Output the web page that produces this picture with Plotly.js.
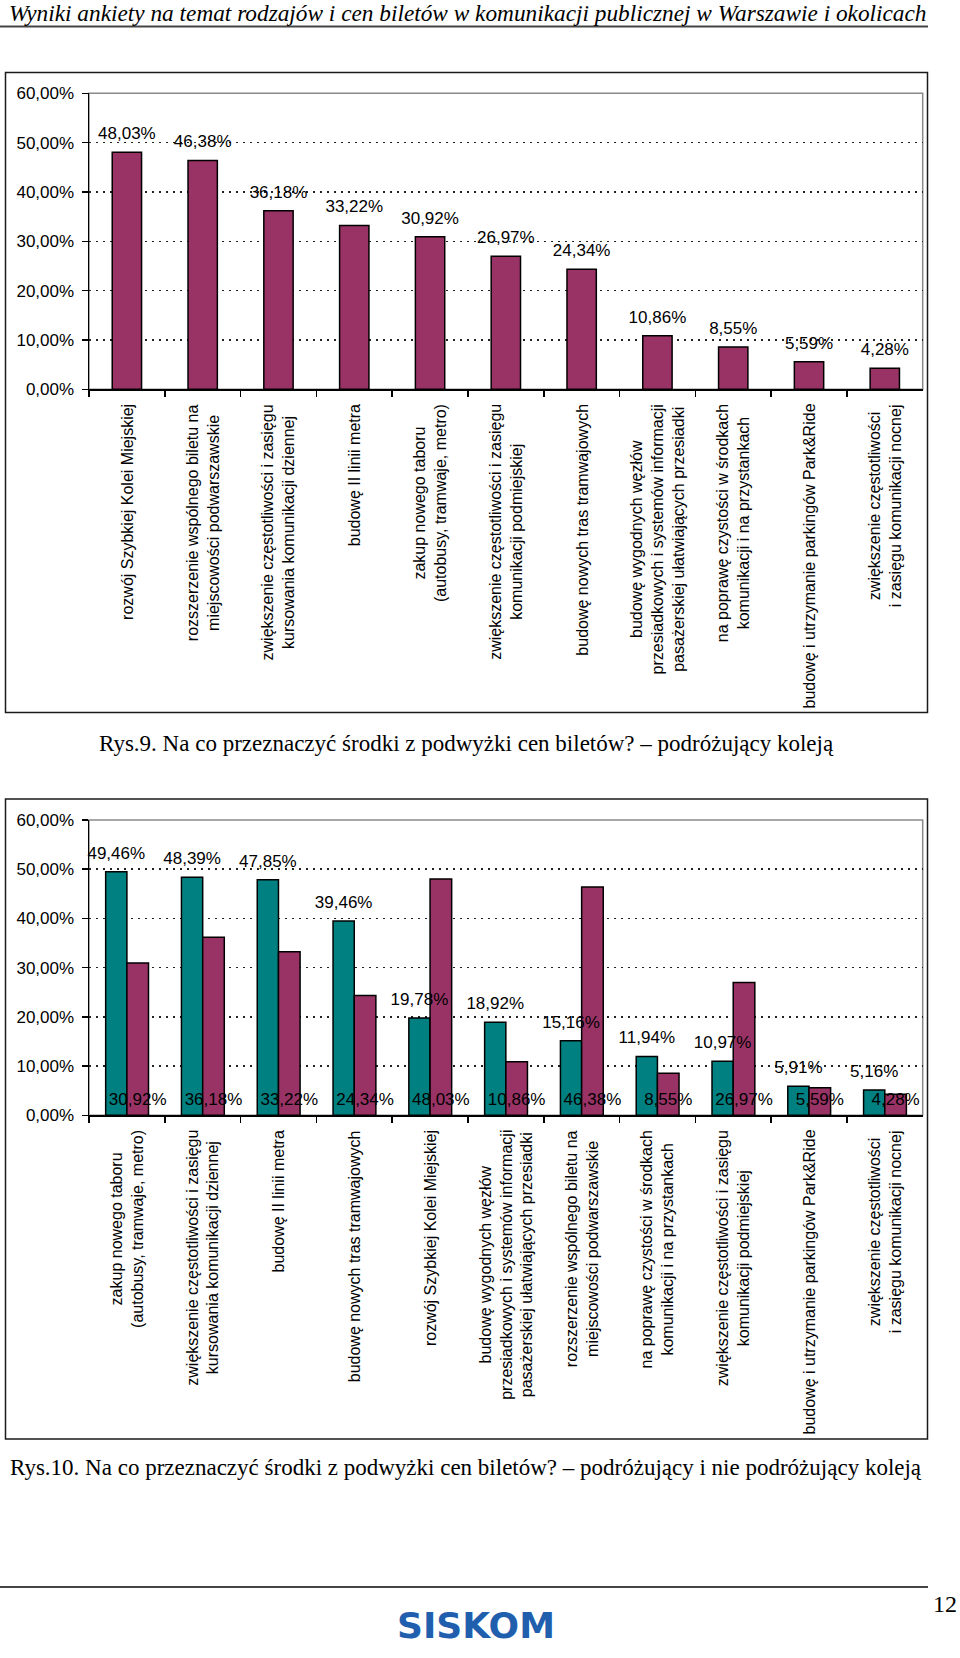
<!DOCTYPE html>
<html>
<head>
<meta charset="utf-8">
<script src="https://cdn.plot.ly/plotly-3.0.1.min.js"></script>
<style>html,body{margin:0;padding:0;background:#fff;}#chart{width:960px;height:1658px;}</style>
</head>
<body>
<div id="chart"></div>
<script>
// ---------- data ----------
const categories1 = [
  "rozwój Szybkiej Kolei Miejskiej",
  "rozszerzenie wspólnego biletu na<br>miejscowości podwarszawskie",
  "zwiększenie częstotliwości i zasięgu<br>kursowania komunikacji dziennej",
  "budowę II linii metra",
  "zakup nowego taboru<br>(autobusy, tramwaje, metro)",
  "zwiększenie częstotliwości i zasięgu<br>komunikacji podmiejskiej",
  "budowę nowych tras tramwajowych",
  "budowę wygodnych węzłów<br>przesiadkowych i systemów informacji<br>pasażerskiej ułatwiających przesiadki",
  "na poprawę czystości w środkach<br>komunikacji i na przystankach",
  "budowę i utrzymanie parkingów Park&Ride",
  "zwiększenie częstotliwości<br>i zasięgu komunikacji nocnej"
];
const values1 = [48.03, 46.38, 36.18, 33.22, 30.92, 26.97, 24.34, 10.86, 8.55, 5.59, 4.28];

const categories2 = [
  "zakup nowego taboru<br>(autobusy, tramwaje, metro)",
  "zwiększenie częstotliwości i zasięgu<br>kursowania komunikacji dziennej",
  "budowę II linii metra",
  "budowę nowych tras tramwajowych",
  "rozwój Szybkiej Kolei Miejskiej",
  "budowę wygodnych węzłów<br>przesiadkowych i systemów informacji<br>pasażerskiej ułatwiających przesiadki",
  "rozszerzenie wspólnego biletu na<br>miejscowości podwarszawskie",
  "na poprawę czystości w środkach<br>komunikacji i na przystankach",
  "zwiększenie częstotliwości i zasięgu<br>komunikacji podmiejskiej",
  "budowę i utrzymanie parkingów Park&Ride",
  "zwiększenie częstotliwości<br>i zasięgu komunikacji nocnej"
];
const nonRailValues = [49.46, 48.39, 47.85, 39.46, 19.78, 18.92, 15.16, 11.94, 10.97, 5.91, 5.16];
const railValues    = [30.92, 36.18, 33.22, 24.34, 48.03, 10.86, 46.38, 8.55, 26.97, 5.59, 4.28];

const yTickVals = [0, 10, 20, 30, 40, 50, 60];

const headerText = "Wyniki ankiety na temat rodzajów i cen biletów w komunikacji publicznej w Warszawie i okolicach";
const caption1 = "Rys.9. Na co przeznaczyć środki z podwyżki cen biletów? – podróżujący koleją";
const caption2 = "Rys.10. Na co przeznaczyć środki z podwyżki cen biletów? – podróżujący i nie podróżujący koleją";
const pageNumber = "12";
const logoText = "SISKOM";

// ---------- styling helpers ----------
const W = 960, H = 1658;
const px = x => x / W;
const py = y => 1 - y / H;
const fmt = v => v.toFixed(2).replace('.', ',') + '%';
const MAROON = '#993366', TEAL = '#008080';
const LIFT = 1.25;      // label lift above bar top (axis units)
const BASE_LIFT = 0.75; // label lift above axis for base labels
const transparent = 'rgba(0,0,0,0)';
const SANS = 'Liberation Sans, Arial, sans-serif';
const SERIF = 'Liberation Serif, Times New Roman, serif';

const traces = [
  // chart 1 bars
  {type:'bar', x:categories1, y:values1, xaxis:'x', yaxis:'y',
   width:0.387, offset:-0.1935,
   marker:{color:MAROON, line:{color:'#000', width:1.5}}, hoverinfo:'skip'},
  // chart 1 labels
  {type:'bar', x:categories1, y:values1, base:LIFT, xaxis:'x', yaxis:'y',
   width:0.387, offset:-0.1935,
   marker:{color:transparent, line:{width:0}}, hoverinfo:'skip',
   text:values1.map(fmt), textposition:'outside', constraintext:'none', textangle:0,
   outsidetextfont:{size:17, color:'#000', family:SANS}, cliponaxis:false},
  // chart 2 bars
  {type:'bar', x:categories2, y:nonRailValues, xaxis:'x2', yaxis:'y2',
   width:0.28, offset:-0.28,
   marker:{color:TEAL, line:{color:'#000', width:1.5}}, hoverinfo:'skip'},
  {type:'bar', x:categories2, y:railValues, xaxis:'x2', yaxis:'y2',
   width:0.285, offset:0,
   marker:{color:MAROON, line:{color:'#000', width:1.5}}, hoverinfo:'skip'},
  // chart 2 labels
  {type:'bar', x:categories2, y:nonRailValues, base:LIFT, xaxis:'x2', yaxis:'y2',
   width:0.28, offset:-0.28,
   marker:{color:transparent, line:{width:0}}, hoverinfo:'skip',
   text:nonRailValues.map(fmt), textposition:'outside', constraintext:'none', textangle:0,
   outsidetextfont:{size:17, color:'#000', family:SANS}, cliponaxis:false},
  {type:'bar', x:categories2, y:railValues, base:BASE_LIFT, xaxis:'x2', yaxis:'y2',
   width:0.285, offset:0,
   marker:{color:transparent, line:{width:0}}, hoverinfo:'skip',
   text:railValues.map(fmt), textposition:'inside', insidetextanchor:'start',
   constraintext:'none', textangle:0,
   insidetextfont:{size:17, color:'#000', family:SANS}, cliponaxis:false}
];

const xAxisBase = {
  type:'category', showline:true, linecolor:'#000', linewidth:1.5,
  ticks:'outside', tickson:'boundaries', ticklen:6, tickwidth:1.5, tickcolor:'#000',
  showticklabels:false,
  showgrid:false, zeroline:false, fixedrange:true, automargin:false
};
const yAxisBase = {
  range:[0, 60], tickmode:'array', tickvals:yTickVals, ticktext:yTickVals.map(fmt),
  showline:true, linecolor:'#000', linewidth:1.5,
  ticks:'outside', ticklen:6, tickwidth:1.5, tickcolor:'#000', ticklabelstandoff:4,
  tickfont:{size:17, color:'#000', family:SANS},
  showgrid:true, gridcolor:'#222', gridwidth:1.5, griddash:'2px,5px',
  zeroline:false, fixedrange:true, automargin:false
};

// category labels, drawn under each category of each chart
function categoryLabels(cats, xref, topPx) {
  return cats.map((c, i) => ({
    text:c, xref:xref, yref:'paper', x:i, y:py(topPx),
    xanchor:'center', yanchor:'top', textangle:-90, align:'center',
    showarrow:false, font:{size:16, color:'#000', family:SANS}
  }));
}

const layout = {
  width:W, height:H, margin:{l:0, r:0, t:0, b:0},
  paper_bgcolor:'#fff', plot_bgcolor:'#fff',
  showlegend:false, barmode:'overlay', separators:',.',
  font:{family:SANS, color:'#000'},
  xaxis:Object.assign({}, xAxisBase, {domain:[px(89), px(922.7)], anchor:'y'}),
  yaxis:Object.assign({}, yAxisBase, {domain:[py(389.3), py(93.3)], anchor:'x'}),
  xaxis2:Object.assign({}, xAxisBase, {domain:[px(89), px(922.7)], anchor:'y2'}),
  yaxis2:Object.assign({}, yAxisBase, {domain:[py(1115.3), py(820)], anchor:'x2'}),
  shapes:[
    // plot-area borders (grey)
    {type:'rect', xref:'x domain', yref:'y domain', x0:0, x1:1, y0:0, y1:1,
     line:{color:'#8a8a8a', width:1.5}, layer:'below'},
    {type:'rect', xref:'x2 domain', yref:'y2 domain', x0:0, x1:1, y0:0, y1:1,
     line:{color:'#8a8a8a', width:1.5}, layer:'below'},
    // chart frames
    {type:'rect', xref:'paper', yref:'paper', x0:px(5.5), x1:px(927.5), y0:py(712.5), y1:py(72.5),
     line:{color:'#1a1a1a', width:1.5}, layer:'below'},
    {type:'rect', xref:'paper', yref:'paper', x0:px(5.5), x1:px(927.5), y0:py(1439), y1:py(799),
     line:{color:'#1a1a1a', width:1.5}, layer:'below'},
    // header & footer rules
    {type:'line', xref:'paper', yref:'paper', x0:0, x1:px(928), y0:py(26.5), y1:py(26.5),
     line:{color:'#444', width:2}},
    {type:'line', xref:'paper', yref:'paper', x0:0, x1:px(928), y0:py(1587), y1:py(1587),
     line:{color:'#444', width:2}}
  ],
  annotations:[
    {text:headerText, xref:'paper', yref:'paper', x:px(7), y:py(13), xanchor:'left', yanchor:'middle',
     showarrow:false, font:{family:SERIF, size:23.3, style:'italic', color:'#000'}},
    {text:caption1, xref:'paper', yref:'paper', x:px(466), y:py(743), xanchor:'center', yanchor:'middle',
     showarrow:false, font:{family:SERIF, size:23, color:'#000'}},
    {text:caption2, xref:'paper', yref:'paper', x:px(8), y:py(1467), xanchor:'left', yanchor:'middle',
     showarrow:false, font:{family:SERIF, size:23, color:'#000'}},
    {text:pageNumber, xref:'paper', yref:'paper', x:px(945), y:py(1604), xanchor:'center', yanchor:'middle',
     showarrow:false, font:{family:SERIF, size:24, color:'#000'}},
    {text:logoText, xref:'paper', yref:'paper', x:px(476), y:py(1625), xanchor:'center', yanchor:'middle',
     showarrow:false, font:{family:'DejaVu Sans, sans-serif', size:36, weight:'bold', color:'#1f5fae'}}
  ].concat(categoryLabels(categories1, 'x', 402), categoryLabels(categories2, 'x2', 1128))
};

Plotly.newPlot('chart', traces, layout, {displayModeBar:false, staticPlot:true});
</script>
</body>
</html>
